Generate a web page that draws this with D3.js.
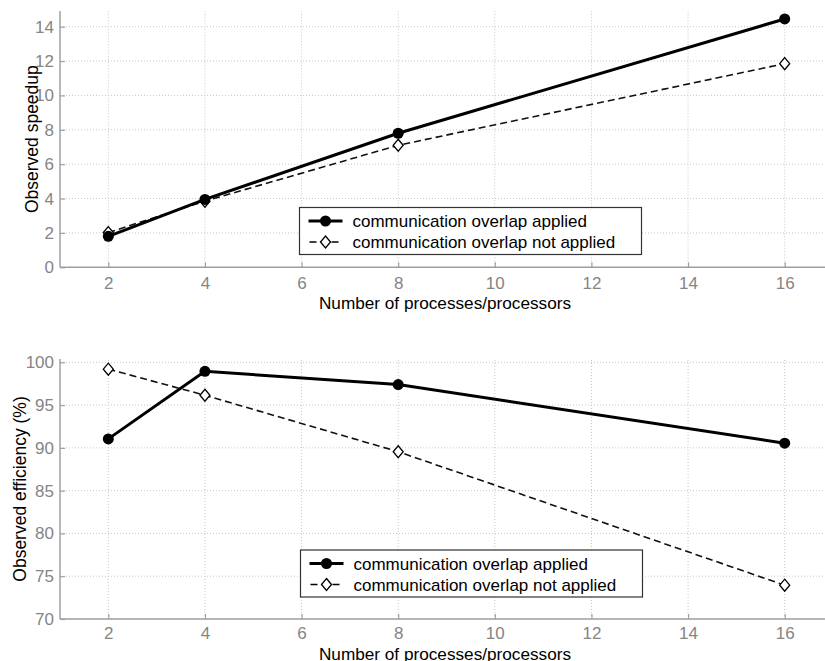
<!DOCTYPE html>
<html><head><meta charset="utf-8">
<script src="https://d3js.org/d3.v7.min.js"></script>
<style>body{margin:0;background:#fff}svg{display:block}</style>
</head><body><svg id="c" width="825" height="661"></svg>
<script>
const procs = [2, 4, 8, 16];
const speedupApplied = [1.8, 3.95, 7.8, 14.45];
const speedupNotApplied = [2.02, 3.85, 7.1, 11.85];
const effApplied = [91.05, 98.95, 97.4, 90.55];
const effNotApplied = [99.2, 96.15, 89.55, 73.95];
const xTicks = [2, 4, 6, 8, 10, 12, 14, 16];
const speedTicks = [0, 2, 4, 6, 8, 10, 12, 14];
const effTicks = [70, 75, 80, 85, 90, 95, 100];
const legendLabels = ["communication overlap applied", "communication overlap not applied"];
const xLabel = "Number of processes/processors";

const svg = d3.select("#c");
const font = "Liberation Sans, Arial, sans-serif";
const diamondPath = "M0,-6L5,0L0,6L-5,0Z";

function panel(cfg) {
  const x = d3.scaleLinear().domain([1, 17]).range([60, 833]);
  const y = d3.scaleLinear().domain(cfg.ydom).range(cfg.yrange);
  const g = svg.append("g");
  const y0 = cfg.yrange[0], yTop = cfg.axisTop;
  // grid
  g.selectAll(".vg").data(xTicks).join("line")
    .attr("x1", d => x(d)).attr("x2", d => x(d)).attr("y1", y0).attr("y2", yTop)
    .attr("stroke", "#c8c8c8").attr("stroke-width", 1).attr("stroke-dasharray", "1,2");
  g.selectAll(".hg").data(cfg.yticks).join("line")
    .attr("x1", 60).attr("x2", 825).attr("y1", d => y(d)).attr("y2", d => y(d))
    .attr("stroke", "#c8c8c8").attr("stroke-width", 1).attr("stroke-dasharray", "1,2");
  // axes
  const xa = g.append("g").attr("transform", `translate(0,${y0})`)
    .call(d3.axisBottom(x).tickValues(xTicks).tickSize(-5).tickPadding(cfg.xpad).tickSizeOuter(0));
  xa.select(".domain").attr("stroke", "#a0a0a0").attr("stroke-width", 1.5).attr("d", `M60,0H825`);
  const ya = g.append("g").attr("transform", "translate(60,0)")
    .call(d3.axisLeft(y).tickValues(cfg.yticks).tickSize(-5).tickPadding(6).tickSizeOuter(0));
  ya.select(".domain").attr("stroke", "#a0a0a0").attr("stroke-width", 1.5).attr("d", `M0,${y0}V${yTop}`);
  [xa, ya].forEach(a => {
    a.selectAll(".tick line").attr("stroke", "#a0a0a0").attr("stroke-width", 1.2);
    a.selectAll(".tick text").attr("fill", "#858585").attr("font-size", 17).attr("font-family", font);
  });
  // lines
  const line = d3.line().x((d, i) => x(procs[i])).y(d => y(d));
  g.append("path").attr("d", line(cfg.b)).attr("fill", "none").attr("stroke", "#111")
    .attr("stroke-width", 1.6).attr("stroke-dasharray", "7,4");
  g.append("path").attr("d", line(cfg.a)).attr("fill", "none").attr("stroke", "#000")
    .attr("stroke-width", 3);
  g.selectAll(".db").data(cfg.b).join("path").attr("d", diamondPath)
    .attr("transform", (d, i) => `translate(${x(procs[i])},${y(d)})`)
    .attr("fill", "#fff").attr("stroke", "#000").attr("stroke-width", 1.3);
  g.selectAll(".ca").data(cfg.a).join("circle")
    .attr("cx", (d, i) => x(procs[i])).attr("cy", d => y(d)).attr("r", 5.5).attr("fill", "#000");
  // labels
  g.append("text").attr("x", 445).attr("y", cfg.xlabY).attr("text-anchor", "middle")
    .attr("font-family", font).attr("font-size", 17.2).attr("fill", "#000").text(xLabel);
  g.append("text").attr("transform", `translate(${cfg.ylabX},${(y0 + yTop) / 2}) rotate(-90)`)
    .attr("text-anchor", "middle").attr("font-family", font).attr("font-size", 17.5)
    .attr("fill", "#000").text(cfg.ylabel);
  // legend
  const L = cfg.leg;
  g.append("rect").attr("x", L.x).attr("y", L.y).attr("width", 342).attr("height", 47)
    .attr("fill", "#fff").attr("stroke", "#333").attr("stroke-width", 1.2);
  const r1 = L.y + 13.5, r2 = L.y + 34.5;
  g.append("line").attr("x1", L.x + 9).attr("x2", L.x + 43).attr("y1", r1).attr("y2", r1)
    .attr("stroke", "#000").attr("stroke-width", 3);
  g.append("circle").attr("cx", L.x + 26).attr("cy", r1).attr("r", 5.5).attr("fill", "#000");
  g.append("line").attr("x1", L.x + 9).attr("x2", L.x + 43).attr("y1", r2).attr("y2", r2)
    .attr("stroke", "#000").attr("stroke-width", 1.6).attr("stroke-dasharray", "7,4").attr("stroke-dashoffset", -1);
  g.append("path").attr("d", diamondPath).attr("transform", `translate(${L.x + 26},${r2})`)
    .attr("fill", "#fff").attr("stroke", "#000").attr("stroke-width", 1.3);
  [r1, r2].forEach((r, i) => g.append("text").attr("x", L.x + 53).attr("y", r + 6)
    .attr("font-family", font).attr("font-size", 17).attr("fill", "#000").text(legendLabels[i]));
}

panel({ ydom: [0, 15], yrange: [267.3, 9.5], axisTop: 11, yticks: speedTicks, xpad: 10,
  a: speedupApplied, b: speedupNotApplied, xlabY: 309, ylabX: 38, ylabel: "Observed speedup",
  leg: { x: 299.5, y: 207.5 } });
panel({ ydom: [70, 100], yrange: [619, 362.3], axisTop: 359, yticks: effTicks, xpad: 8,
  a: effApplied, b: effNotApplied, xlabY: 659.5, ylabX: 26, ylabel: "Observed efficiency (%)",
  leg: { x: 300.5, y: 550 } });
</script></body></html>
